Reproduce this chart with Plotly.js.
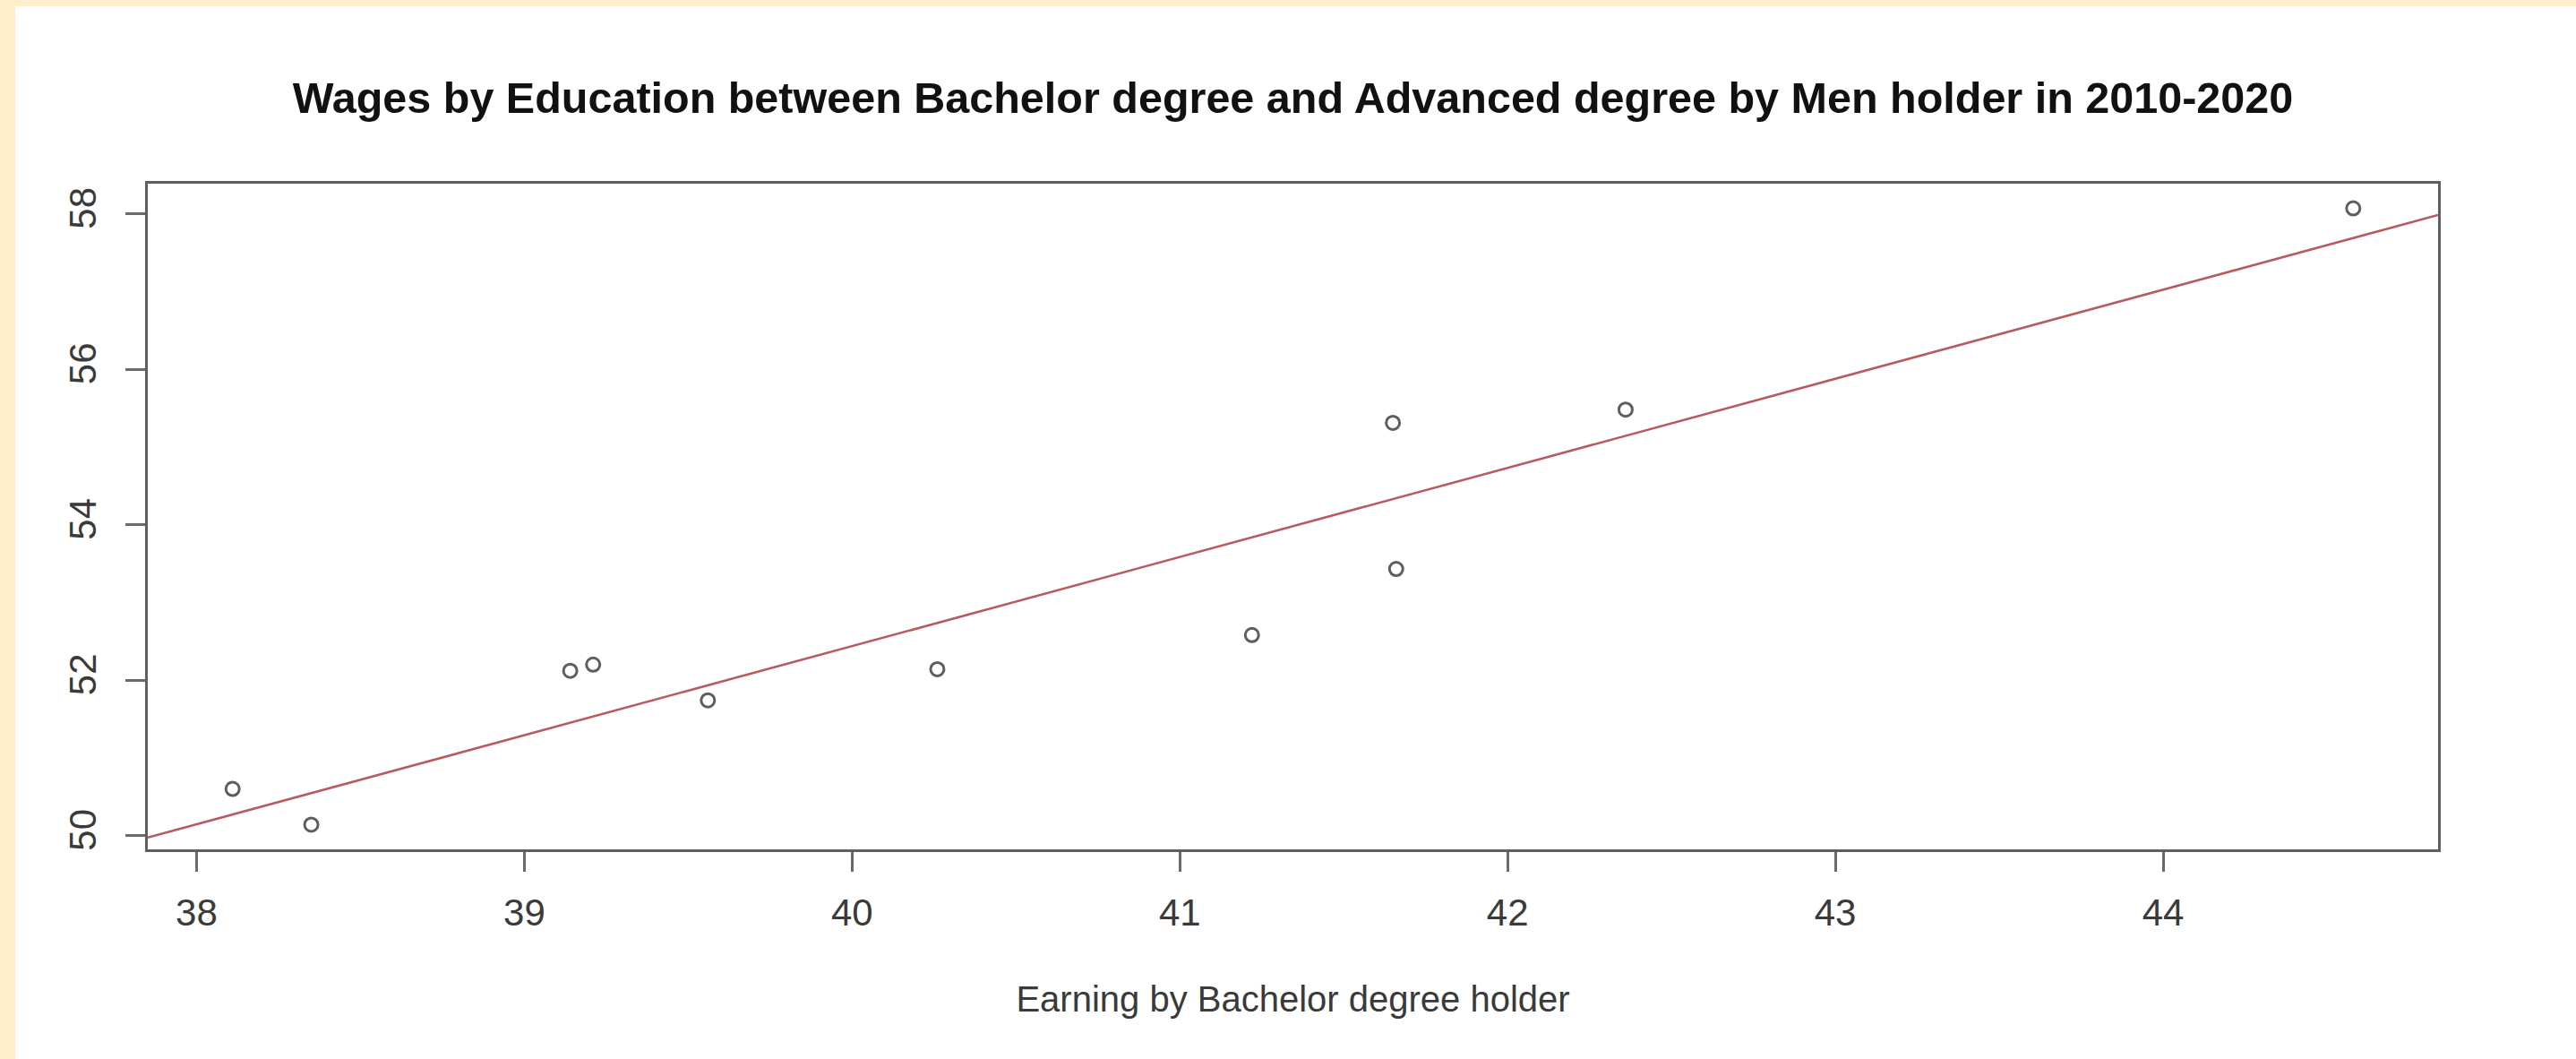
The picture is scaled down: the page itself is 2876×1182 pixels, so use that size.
<!DOCTYPE html>
<html>
<head>
<meta charset="utf-8">
<script src="https://cdn.plot.ly/plotly-3.0.1.min.js"></script>
<style>
  html, body { margin: 0; padding: 0; background: #FFEDCC; width: 2876px; height: 1182px; overflow: hidden; }
  #chart { position: absolute; left: 17px; top: 7px; width: 2859px; height: 1175px; background: #ffffff; }
</style>
</head>
<body>
<div id="chart"></div>
<script>
// Earnings (hourly wages, USD) of men, 2010-2020
const bachelorEarning = [38.11, 38.35, 39.14, 39.21, 39.56, 40.26, 41.22, 41.65, 41.66, 42.36, 44.58];
const advancedEarning = [50.60, 50.14, 52.12, 52.20, 51.74, 52.14, 52.58, 55.31, 53.43, 55.48, 58.07];
const xTickValues = [38, 39, 40, 41, 42, 43, 44];
const yTickValues = [50, 52, 54, 56, 58];
const chartTitle = "Wages by Education between Bachelor degree and Advanced degree by Men holder in 2010-2020";
const xAxisTitle = "Earning by Bachelor degree holder";

// least-squares fit (like R's abline(lm(y ~ x)))
function fit(xs, ys) {
  const n = xs.length;
  const mx = xs.reduce((a, b) => a + b, 0) / n;
  const my = ys.reduce((a, b) => a + b, 0) / n;
  let sxy = 0, sxx = 0;
  for (let i = 0; i < n; i++) { sxy += (xs[i] - mx) * (ys[i] - my); sxx += (xs[i] - mx) ** 2; }
  const slope = sxy / sxx;
  return { slope: slope, intercept: my - slope * mx };
}
// R default axis range: data range extended 4% each side
function rRange(v) {
  const lo = Math.min(...v), hi = Math.max(...v), d = (hi - lo) * 0.04;
  return [lo - d, hi + d];
}
const xr = rRange(bachelorEarning);
const yr = rRange(advancedEarning);
const lm = fit(bachelorEarning, advancedEarning);
const lineX = [xr[0], xr[1]];
const lineY = lineX.map(x => lm.intercept + lm.slope * x);

const FONT = '"Liberation Sans", Arial, Helvetica, sans-serif';

const traces = [
  {
    x: bachelorEarning, y: advancedEarning,
    type: 'scatter', mode: 'markers',
    marker: { symbol: 'circle-open', size: 15, color: '#5e5e5e', line: { width: 3, color: '#5e5e5e' } },
    hoverinfo: 'x+y', showlegend: false
  },
  {
    x: lineX, y: lineY,
    type: 'scatter', mode: 'lines',
    line: { color: '#b85a5e', width: 2.6 },
    hoverinfo: 'skip', showlegend: false
  }
];

const layout = {
  width: 2859, height: 1175,
  paper_bgcolor: '#ffffff', plot_bgcolor: '#ffffff',
  margin: { l: 148, r: 154, t: 198, b: 234, pad: 0 },
  font: { family: FONT, color: '#333333' },
  title: {
    text: '<b>' + chartTitle + '</b>',
    font: { family: FONT, size: 48.5, color: '#111111' },
    x: 0.5, xref: 'paper', xanchor: 'center',
    y: 1 - 102 / 1175, yref: 'container', yanchor: 'middle'
  },
  xaxis: {
    range: xr, autorange: false,
    tickmode: 'array', tickvals: xTickValues, ticktext: xTickValues.map(String),
    showgrid: false, zeroline: false,
    showline: true, linecolor: '#5f5f5f', linewidth: 3, mirror: true,
    ticks: 'outside', ticklen: 22, tickwidth: 3, tickcolor: '#6a6a6a',
    ticklabelstandoff: 10,
    tickfont: { family: FONT, size: 42, color: '#3a3a3a' },
    title: { text: xAxisTitle, font: { family: FONT, size: 40, color: '#3a3a3a' }, standoff: 60 },
    automargin: false
  },
  yaxis: {
    range: yr, autorange: false,
    tickmode: 'array', tickvals: yTickValues, ticktext: yTickValues.map(String),
    showgrid: false, zeroline: false,
    showline: true, linecolor: '#5f5f5f', linewidth: 3, mirror: true,
    ticks: 'outside', ticklen: 22, tickwidth: 3, tickcolor: '#6a6a6a',
    tickangle: -90,
    ticklabelstandoff: 16,
    tickfont: { family: FONT, size: 42, color: '#3a3a3a' },
    automargin: false
  }
};

Plotly.newPlot('chart', traces, layout, { displayModeBar: false, staticPlot: false });
</script>
</body>
</html>
